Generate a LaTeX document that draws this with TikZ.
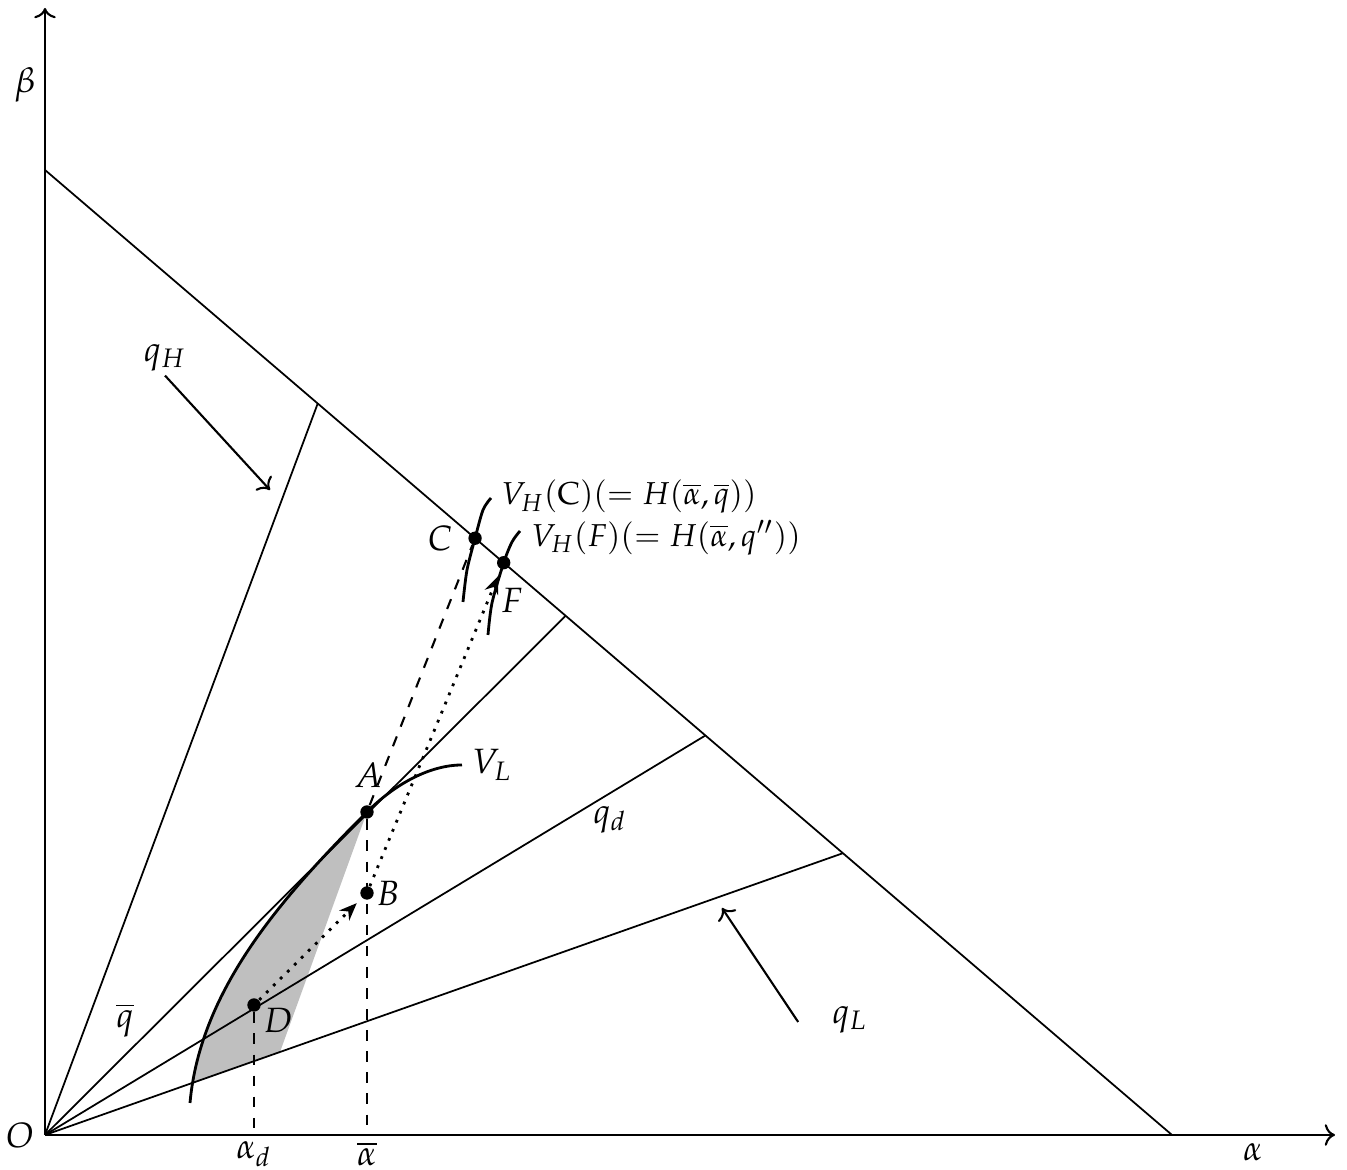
\documentclass[tikz,border=0pt]{standalone}
\usepackage{amsmath}
\usepackage{mathpazo}
\usetikzlibrary{arrows.meta, calc}
\tikzset{
  axisline/.style  = {semithick, ->},
  rayline/.style   = {line width=0.5pt},
  indiff/.style    = {thick},
  guide/.style     = {dashed, semithick},
  move/.style      = {dotted, thick, -{Stealth[length=5pt, width=4pt]}, shorten >=2pt},
  pointer/.style   = {semithick, ->},
  dot/.style       = {circle, fill=black, inner sep=0pt, minimum size=3.8pt},
  lab/.style       = {font=\normalsize, inner sep=1pt},
  longlab/.style   = {font=\small, inner sep=1pt, anchor=west},
}
\begin{document}
\begin{tikzpicture}
  \useasboundingbox (-0.45,-0.35) rectangle (13.02,11.35);

  % budget line and rays
  \coordinate (O) at (0,0);
  \coordinate (bT) at (0,9.65);
  \coordinate (bB) at (11.27,0);
  \coordinate (rH) at ($(bT)!0.242!(bB)$);
  \coordinate (rQ) at ($(bT)!0.462!(bB)$);
  \coordinate (rD) at ($(bT)!0.586!(bB)$);
  \coordinate (rL) at ($(bT)!0.708!(bB)$);

  % shaded set
  \begin{scope}
    \clip (O) -- (8,2.82) -- (0,11) -- cycle;
    \fill[gray!50] (1.45,0.32) .. controls (1.55,1.45) and (2.37,2.38) .. (3.22,3.23)
      -- (2.35,0.83) -- (2.4,0.3) -- cycle;
  \end{scope}

  \node[dot] (A) at (3.22,3.23) {};
  \node[dot] (B) at (3.22,2.42) {};
  \node[dot] (D) at (2.09,1.30) {};
  \node[dot] (C) at ($(bT)!0.3816!(bB)$) {};
  \node[dot] (F) at ($(bT)!0.407!(bB)$) {};
  \coordinate (aD) at (D |- O);
  \coordinate (aA) at (A |- O);

  % axes
  \draw[axisline] (O) -- (12.90,0);
  \draw[axisline] (O) -- (0,11.27);
  \draw[rayline] (bT) -- (bB);
  \foreach \r in {rH, rQ, rD, rL}
    \draw[rayline] (O) -- (\r);

  % indifference curves
  \draw[indiff] (1.45,0.32) .. controls (1.55,1.45) and (2.37,2.38) .. (A.center)
    .. controls (3.50,3.51) and (3.85,3.70) .. (4.17,3.70);
  \draw[indiff] plot[smooth] coordinates {(4.18,5.33) (4.22,5.65) (C.center) (4.38,6.25) (4.46,6.37)};
  \draw[indiff] plot[smooth] coordinates {(4.43,5.00) (4.47,5.32) (F.center) (4.67,5.93) (4.75,6.04)};

  % guides and moves
  \draw[guide] (D) -- (aD);
  \draw[guide] (A) -- (aA);
  \draw[guide] (A) -- (C);
  \draw[move] (D) -- (B);
  \draw[move] (B) -- (F);

  % labels
  \node[lab] (lO) at (-0.25,0) {$O$};
  \node[lab] (lbeta) at (-0.20,10.50) {$\beta$};
  \node[lab] (lalpha) at (12.08,-0.17) {$\alpha$};
  \node[lab] (lad) at (2.09,-0.19) {$\alpha_d$};
  \node[lab] (lab) at (3.22,-0.19) {$\overline{\alpha}$};
  \node[lab] (lA) at (3.23,3.60) {$A$};
  \node[lab] (lB) at (3.43,2.42) {$B$};
  \node[lab] (lC) at (3.95,5.97) {$C$};
  \node[lab] (lD) at (2.33,1.15) {$D$};
  \node[lab] (lF) at (4.67,5.35) {$F$};
  \node[lab] (lVL) at (4.47,3.70) {$V_L$};
  \node[lab] (lqd) at (5.65,3.15) {$q_d$};
  \node[lab] (lqbar) at (0.80,1.15) {$\overline{q}$};
  \node[longlab] (lVC) at (4.52,6.38) {$V_H(\mathrm{C})(=H(\overline{\alpha},\overline{q}))$};
  \node[longlab] (lVF) at (4.82,5.97) {$V_H(F)(=H(\overline{\alpha},q''))$};

  \node[lab] (qH) at (1.20,7.77) {$q_H$};
  \coordinate (qHe) at (2.25,6.45);
  \draw[pointer] (qH.south) -- (qHe);
  \node[lab] (qL) at (8.05,1.15) {$q_L$};
  \coordinate (qLe) at (6.77,2.27);
  \draw[pointer] ($(qL.west)+(-0.30,-0.02)$) -- (qLe);
\end{tikzpicture}
\end{document}
